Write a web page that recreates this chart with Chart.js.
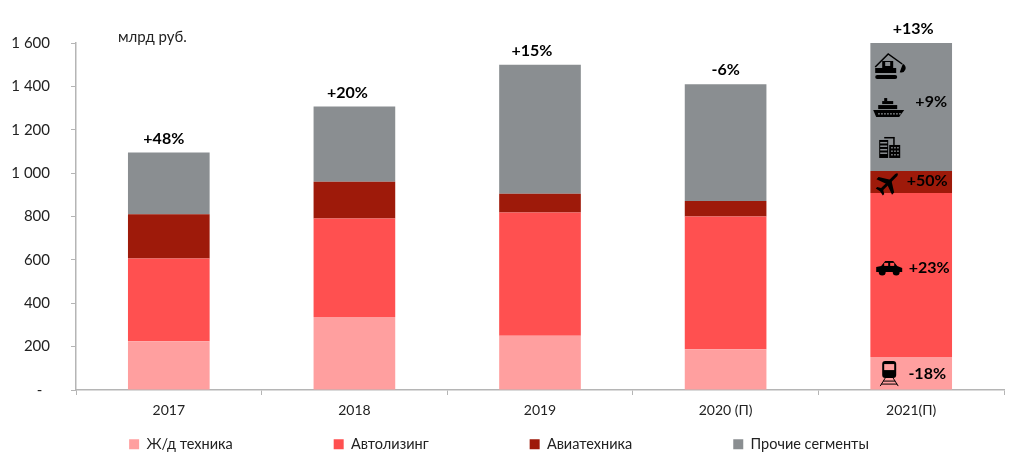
<!DOCTYPE html>
<html>
<head>
<meta charset="utf-8">
<style>
html, body { margin: 0; padding: 0; background: #fff; }
canvas { display: block; }
</style>
<script src="https://cdn.jsdelivr.net/npm/chart.js@4"></script>
</head>
<body>
<canvas id="myChart" width="1024" height="463"></canvas>
<script>
const years = ['2017', '2018', '2019', '2020 (П)', '2021(П)'];
const rail = [225, 337, 250, 188, 152];
const auto = [381, 454, 568, 612, 756];
const avia = [204, 169, 87, 72, 102];
const other = [285, 347, 595, 538, 590];
const growth = ['+48%', '+20%', '+15%', '-6%', '+13%'];
const tickLabels = ['-  ', '200', '400', '600', '800', '1 000', '1 200', '1 400', '1 600'];

// подписи сегментов столбца 2021
const segmentLabels = ['-18%', '+23%', '+50%', '+9%'];
const segmentLabelValues = [74, 563, 964, 1328];

const FONT = 'Lato, "Open Sans", sans-serif';

// иконки рисуются от своего центра
function train(c) {
  c.beginPath(); c.roundRect(-7, -12, 14, 17, 3); c.fill();
  c.fillStyle = '#FF9F9F';
  c.fillRect(-5, -9, 10, 6);
  c.fillStyle = '#000';
  c.lineWidth = 1;
  c.beginPath();
  c.moveTo(-4, 5); c.lineTo(-9, 13); c.moveTo(4, 5); c.lineTo(9, 13);
  c.moveTo(-6, 8); c.lineTo(6, 8); c.moveTo(-8, 11); c.lineTo(8, 11);
  c.stroke();
}
function car(c) {
  c.beginPath();
  c.moveTo(-13, 4); c.lineTo(-13, -1); c.lineTo(-8, -2); c.lineTo(-4, -7);
  c.lineTo(4, -7); c.lineTo(8, -2); c.lineTo(13, 0); c.lineTo(13, 4);
  c.closePath(); c.fill();
  c.beginPath(); c.arc(-7, 4, 3.5, 0, 7); c.arc(7, 4, 3.5, 0, 7); c.fill();
  c.fillStyle = '#FF5050';
  c.fillRect(-5, -5, 4, 3); c.fillRect(1, -5, 4, 3);
}
function plane(c) {
  c.rotate(-Math.PI / 4);
  c.beginPath();
  c.moveTo(-12, -1.5); c.lineTo(10, -1.5); c.quadraticCurveTo(14, 0, 10, 1.5); c.lineTo(-12, 1.5);
  c.closePath(); c.fill();
  c.beginPath();
  c.moveTo(3, 0); c.lineTo(-4, -11); c.lineTo(-7, -11); c.lineTo(-3, 0);
  c.lineTo(-7, 11); c.lineTo(-4, 11); c.closePath(); c.fill();
  c.beginPath();
  c.moveTo(-9, 0); c.lineTo(-12, -5); c.lineTo(-14, -5); c.lineTo(-13, 0);
  c.lineTo(-14, 5); c.lineTo(-12, 5); c.closePath(); c.fill();
}
function building(c) {
  c.fillRect(-10, -8, 9, 18);
  c.fillRect(0, -3, 11, 13);
  c.fillRect(-5, -11, 10, 1.5);
  c.fillRect(4, -11, 1.5, 8);
  c.fillStyle = '#8A8E91';
  for (let i = 0; i < 4; i++) c.fillRect(-9, -6 + i * 3.5, 7, 1.5);
  for (let i = 0; i < 3; i++) for (let j = 0; j < 3; j++) c.fillRect(2 + j * 3, -1 + i * 3.5, 1.5, 1.5);
}
function ship(c) {
  c.beginPath();
  c.moveTo(-16, 2); c.lineTo(15, 2); c.lineTo(10, 9); c.lineTo(-13, 9);
  c.closePath(); c.fill();
  c.fillRect(-11, -3, 19, 4);
  c.fillRect(-7, -7, 11, 3);
  c.fillRect(-5, -10, 3, 3);
  c.fillStyle = '#8A8E91';
  for (let i = 0; i < 8; i++) c.fillRect(-11 + i * 3, 5, 1.5, 1.5);
}
function excavator(c) {
  c.fillRect(-14, 2, 21, 5);
  c.fillRect(-7, -5, 11, 7);
  c.beginPath(); c.roundRect(-14, 9, 22, 4, 2); c.fill();
  c.lineWidth = 1.5;
  c.beginPath(); c.moveTo(-14, 1); c.lineTo(-1, -12); c.lineTo(13, -2); c.stroke();
  c.beginPath(); c.arc(12, 2, 4.5, -1.2, 1.9); c.closePath(); c.fill();
  c.fillStyle = '#8A8E91';
  c.fillRect(-4, -4, 5, 4);
}

// [иконка, значение по оси]
const icons = [[train, 78], [car, 563], [plane, 959], [building, 1116], [ship, 1300], [excavator, 1494]];

const annotations = {
  id: 'annotations',
  beforeInit(chart) {
    // большой padding легенды раздувает её высоту, оставляем только нужную
    const fit = chart.legend.fit;
    chart.legend.fit = function () {
      fit.call(this);
      this.height = 40;
    };
  },
  afterLayout(chart) {
    // легенда рисуется с обрезкой по своему блоку, поэтому блок до низа холста
    const legend = chart.legend;
    legend.top = 336;
    legend.bottom = 463;
    legend.left -= 3;
    legend.right -= 3;
  },
  afterDatasetsDraw(chart) {
    const c = chart.ctx;
    const x = chart.scales.x;
    const y = chart.scales.y;
    const growthShift = [-5, -7, -8, 0, 2];
    c.save();
    c.textAlign = 'center';
    c.textBaseline = 'middle';
    c.fillStyle = '#000';
    c.font = 'bold 16px ' + FONT;
    years.forEach((_, i) => {
      const total = rail[i] + auto[i] + avia[i] + other[i];
      c.fillText(growth[i], x.getPixelForValue(i) + growthShift[i], y.getPixelForValue(total) - 14);
    });
    const last = x.getPixelForValue(4);
    const offsets = [16, 18, 16, 20];
    segmentLabels.forEach((t, i) => {
      c.fillText(t, last + offsets[i], y.getPixelForValue(segmentLabelValues[i]));
    });
    icons.forEach(([draw, v]) => {
      c.save();
      c.translate(last - 22, y.getPixelForValue(v));
      draw(c);
      c.restore();
    });
    c.font = '15px ' + FONT;
    c.fillStyle = '#222';
    c.textAlign = 'left';
    c.fillText('млрд руб.', 118, 37);
    c.restore();
  }
};

function bars(label, data, color) {
  return { label: label, data: data, backgroundColor: color, barPercentage: 0.44, categoryPercentage: 1 };
}

new Chart(document.getElementById('myChart'), {
  type: 'bar',
  data: {
    labels: years,
    datasets: [
      bars('Ж/д техника', rail, '#FF9F9F'),
      bars('Автолизинг', auto, '#FF5050'),
      bars('Авиатехника', avia, '#9E1A0A'),
      bars('Прочие сегменты', other, '#8A8E91')
    ]
  },
  options: {
    responsive: false,
    animation: false,
    layout: { padding: { left: 0, right: 20, top: 43, bottom: 0 } },
    plugins: {
      tooltip: { enabled: false },
      legend: {
        position: 'bottom',
        labels: {
          boxWidth: 10,
          boxHeight: 10,
          padding: 101,
          color: '#222',
          font: { family: FONT, size: 14.5 }
        }
      }
    },
    scales: {
      x: {
        stacked: true,
        afterFit(scale) { scale.height = 33; },
        border: { color: '#B5B5B5', width: 1.5 },
        grid: { drawOnChartArea: false, color: '#B5B5B5', tickLength: 5 },
        ticks: { color: '#222', font: { family: FONT, size: 14 }, padding: 7, maxRotation: 0 }
      },
      y: {
        stacked: true,
        min: 0,
        max: 1600,
        afterFit(scale) { scale.width = 76; },
        border: { color: '#B5B5B5', width: 1.5 },
        grid: { drawOnChartArea: false, color: '#B5B5B5', tickLength: 5 },
        ticks: {
          stepSize: 200,
          color: '#222',
          padding: 21,
          font: { family: FONT, size: 15 },
          callback(value) { return tickLabels[value / 200]; }
        }
      }
    }
  },
  plugins: [annotations]
});
</script>
</body>
</html>
